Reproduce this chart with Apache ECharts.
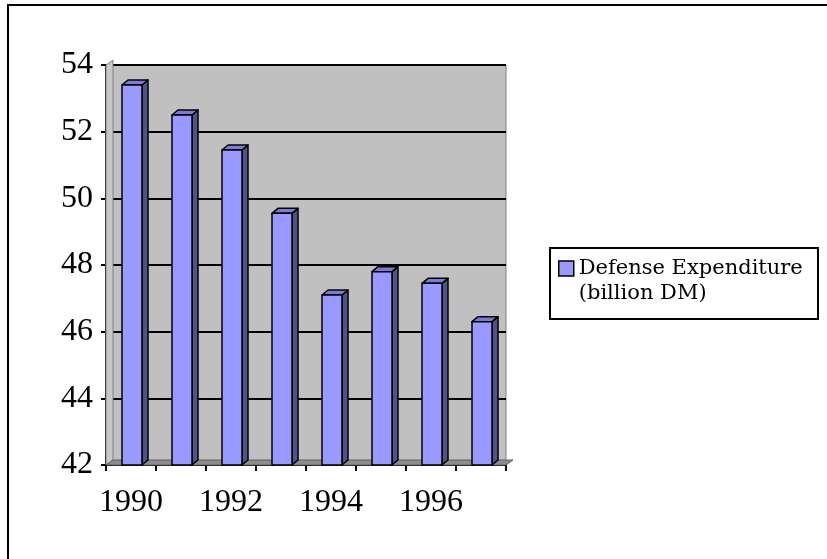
<!DOCTYPE html>
<html>
<head>
<meta charset="utf-8">
<title>Defense Expenditure</title>
<script src="https://cdn.jsdelivr.net/npm/echarts@6/dist/echarts.min.js"></script>
<style>
  html, body { margin: 0; padding: 0; background: #fff; }
  #chart { width: 827px; height: 559px; }
</style>
</head>
<body>
<div id="chart"></div>
<script>
// data
const years = ['1990', '1991', '1992', '1993', '1994', '1995', '1996', '1997']
const expenditure = [53.4, 52.5, 51.45, 49.55, 47.1, 47.8, 47.45, 46.3]
const seriesName = 'Defense Expenditure\n(billion DM)'
const yMin = 42
const yMax = 54
const yStep = 2

// plot box (px)
const gridLeft = 106
const gridTop = 65
const gridWidth = 400
const gridHeight = 400
const depthX = 7
const depthY = 5

const serif = '"Liberation Serif", "DejaVu Serif", serif'

function renderBar(params, api) {
  const top = api.coord([api.value(0), api.value(1)])
  const base = api.coord([api.value(0), yMin])
  const bw = api.size([1, 0])[0] * 0.4
  const x0 = top[0] - bw / 2 + 1
  const x1 = x0 + bw
  const dx = 6
  const dy = 5
  const stroke = { stroke: '#000', lineWidth: 1.5, lineJoin: 'round' }
  return {
    type: 'group',
    children: [
      {
        type: 'polygon',
        shape: { points: [[x1, top[1]], [x1 + dx, top[1] - dy], [x1 + dx, base[1] - dy], [x1, base[1]]] },
        style: Object.assign({ fill: '#52528A' }, stroke)
      },
      {
        type: 'polygon',
        shape: { points: [[x0, top[1]], [x0 + dx, top[1] - dy], [x1 + dx, top[1] - dy], [x1, top[1]]] },
        style: Object.assign({ fill: '#7B7BD6' }, stroke)
      },
      {
        type: 'rect',
        shape: { x: x0, y: top[1], width: bw, height: base[1] - top[1] },
        style: Object.assign({ fill: '#9999FF' }, stroke)
      }
    ]
  }
}

const chart = echarts.init(document.getElementById('chart'))

chart.setOption({
  animation: false,
  backgroundColor: '#fff',
  grid: {
    left: gridLeft,
    top: gridTop,
    width: gridWidth,
    height: gridHeight,
    show: true,
    backgroundColor: '#C0C0C0',
    borderColor: '#808080',
    borderWidth: 1
  },
  legend: {
    data: [seriesName],
    left: 558,
    top: 231,
    padding: 0,
    icon: 'rect',
    itemWidth: 15,
    itemHeight: 15,
    itemStyle: { color: '#9999FF', borderColor: '#000', borderWidth: 1.5 },
    // blank first line so the icon sits next to the first text line
    formatter: name => '\n' + name,
    textStyle: {
      fontFamily: '"DejaVu Serif", serif',
      fontSize: 21,
      lineHeight: 25,
      color: '#000'
    }
  },
  xAxis: {
    type: 'category',
    data: years,
    axisLine: { lineStyle: { color: '#000', width: 2 } },
    axisTick: { show: true, interval: 0, length: 6, lineStyle: { color: '#000', width: 2 } },
    axisLabel: { interval: 1, margin: 22, color: '#000', fontFamily: serif, fontSize: 32 },
    splitLine: { show: false }
  },
  yAxis: {
    type: 'value',
    min: yMin,
    max: yMax,
    interval: yStep,
    axisLine: { show: true, lineStyle: { color: '#000', width: 2 } },
    axisTick: { show: true, length: 5, lineStyle: { color: '#000', width: 2 } },
    axisLabel: { margin: 13, color: '#000', fontFamily: serif, fontSize: 32 },
    splitLine: { show: true, lineStyle: { color: '#000', width: 1.8 } }
  },
  series: [
    {
      name: seriesName,
      type: 'custom',
      renderItem: renderBar,
      itemStyle: { color: '#9999FF', borderColor: '#000', borderWidth: 1.5 },
      encode: { x: 0, y: 1 },
      data: years.map((y, i) => [y, expenditure[i]]),
      z: 3
    }
  ],
  graphic: [
    // outer frame (only top and left edges are visible)
    {
      type: 'polyline',
      shape: { points: [[8, 559], [8, 5], [827, 5]] },
      style: { stroke: '#000', lineWidth: 2, fill: null },
      z: 10
    },
    // side wall
    {
      type: 'polygon',
      shape: {
        points: [
          [gridLeft, gridTop + gridHeight],
          [gridLeft, gridTop],
          [gridLeft + depthX, gridTop - depthY],
          [gridLeft + depthX, gridTop + gridHeight - depthY]
        ]
      },
      style: { fill: '#C8C8C8', stroke: '#808080', lineWidth: 1 },
      z: 1
    },
    // floor
    {
      type: 'polygon',
      shape: {
        points: [
          [gridLeft, gridTop + gridHeight],
          [gridLeft + depthX, gridTop + gridHeight - depthY],
          [gridLeft + gridWidth + depthX, gridTop + gridHeight - depthY],
          [gridLeft + gridWidth, gridTop + gridHeight]
        ]
      },
      style: { fill: '#8C8C8C', stroke: '#606060', lineWidth: 1 },
      z: 1
    },
    // legend frame
    {
      type: 'rect',
      shape: { x: 550, y: 248, width: 268, height: 71 },
      style: { fill: null, stroke: '#000', lineWidth: 2 },
      z: 10
    }
  ]
})
</script>
</body>
</html>
